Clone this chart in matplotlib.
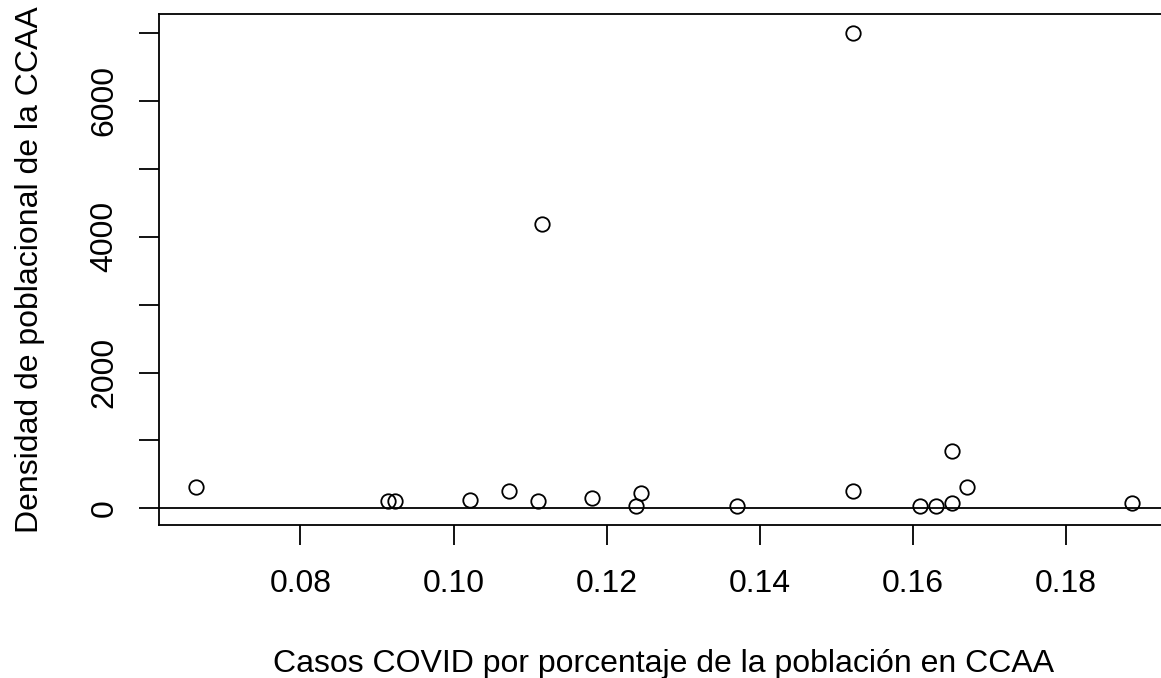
import matplotlib
matplotlib.use("Agg")
import matplotlib.pyplot as plt

# Casos COVID (% de la poblacion) y densidad de poblacion por comunidad autonoma
casos_pct = [0.0664, 0.0914, 0.0924, 0.1022, 0.1072, 0.1110, 0.1115,
             0.1181, 0.1245, 0.1239, 0.1370, 0.1522, 0.1522, 0.1609,
             0.1630, 0.1651, 0.1671, 0.1651, 0.1886]
densidad = [308, 105, 105, 125, 252, 110, 4181,
            146, 230, 34, 34, 249, 7000, 38,
            38, 78, 314, 848, 78]

x_ticks = [0.08, 0.10, 0.12, 0.14, 0.16, 0.18]
x_tick_labels = ["0.08", "0.10", "0.12", "0.14", "0.16", "0.18"]
y_ticks = [0, 1000, 2000, 3000, 4000, 5000, 6000, 7000]
y_tick_labels = ["0", "", "2000", "", "4000", "", "6000", ""]

plt.rcParams['font.family'] = ['Liberation Sans', 'DejaVu Sans']

fig = plt.figure(figsize=(11.61, 6.78), dpi=100)
# plot region runs a little past the right edge of the canvas
ax = fig.add_axes([159 / 1161, (678 - 525) / 678, 1010 / 1161, 511 / 678])

ax.plot(casos_pct, densidad, linestyle='none', marker='o', markersize=10.4,
        markerfacecolor='none', markeredgecolor='black', markeredgewidth=1.3)
ax.axhline(0, color='black', linewidth=1.3)

# R-style 4% padding around the data range
xr = max(casos_pct) - min(casos_pct)
yr = max(densidad) - min(densidad)
ax.set_xlim(min(casos_pct) - 0.04 * xr, max(casos_pct) + 0.04 * xr)
ax.set_ylim(min(densidad) - 0.04 * yr, max(densidad) + 0.04 * yr)

ax.set_xticks(x_ticks)
ax.set_xticklabels(x_tick_labels)
ax.set_yticks(y_ticks)
ax.set_yticklabels(y_tick_labels, rotation=90, va='center')

ax.tick_params(axis='both', direction='out', length=14.4, width=1.3,
               labelsize=23, color='black')
ax.tick_params(axis='x', pad=17)
ax.tick_params(axis='y', pad=14)
for spine in ax.spines.values():
    spine.set_linewidth(1.3)

ax.set_xlabel("Casos COVID por porcentaje de la población en CCAA",
              fontsize=23, labelpad=36)
ax.set_ylabel("Densidad de poblacional de la CCAA", fontsize=23, labelpad=32)

fig.savefig("out.png", dpi=100)
